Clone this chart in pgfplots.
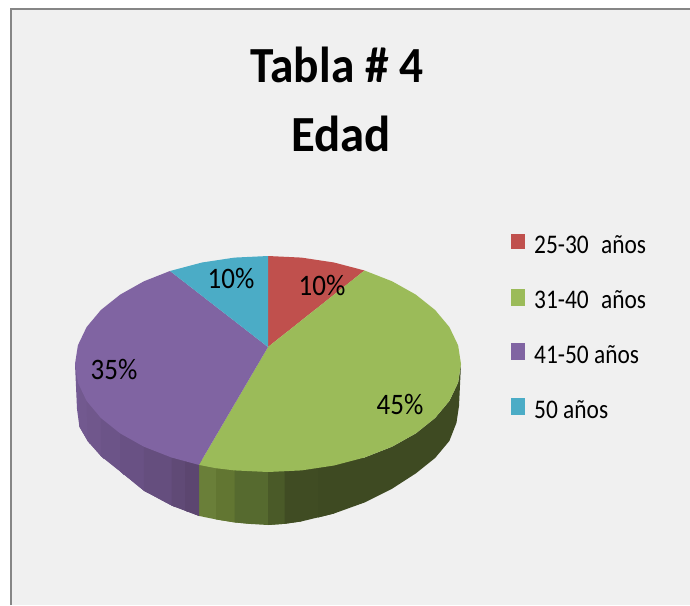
\documentclass[border=0pt]{standalone}
\usepackage{pgfplots}
\usepackage{fontspec}
\setmainfont{Carlito}
\pgfplotsset{compat=1.18}
\definecolor{pbg}{HTML}{F0F0F0}
\definecolor{frm}{HTML}{868686}
\definecolor{cr}{HTML}{C0504D}
\definecolor{cg}{HTML}{9BBB59}
\definecolor{cp}{HTML}{8064A2}
\definecolor{cb}{HTML}{4BACC6}
\definecolor{g1}{HTML}{6A7F39}
\definecolor{g2}{HTML}{627632}
\definecolor{g3}{HTML}{566A2F}
\definecolor{g4}{HTML}{4A5A28}
\definecolor{g5}{HTML}{404C23}
\definecolor{g6}{HTML}{3E4A22}
\definecolor{p1}{HTML}{735A93}
\definecolor{p2}{HTML}{72598F}
\definecolor{p3}{HTML}{70578C}
\definecolor{p4}{HTML}{6C5488}
\definecolor{p5}{HTML}{695184}
\definecolor{p6}{HTML}{654E7E}
\definecolor{p7}{HTML}{604A76}
\definecolor{p8}{HTML}{5C4670}
\newcommand{\piece}[2]{\addplot[fill=#1,draw=none,mark=none] coordinates {#2};}
\newcommand{\slice}[2]{\addplot[fill=#1,draw=none,mark=none] coordinates {#2};}
\newcommand{\lab}[1]{\fontsize{27}{27}\selectfont\scalebox{1}[1.1]{#1}}
\newcommand{\leg}[1]{\fontsize{24}{24}\selectfont\scalebox{0.975}[1.12]{#1}}
\newcommand{\ttl}[2]{\fontsize{46}{46}\selectfont\bfseries\scalebox{#1}[1.1]{#2}}
\begin{document}
\begin{tikzpicture}
\begin{axis}[
  width=690pt,height=605pt,scale only axis,
  xmin=0,xmax=690,ymin=0,ymax=605,y dir=reverse,
  axis lines=none,clip=true]
% background
\addplot[fill=white,draw=none,mark=none] coordinates {(0,0)(690,0)(690,605)(0,605)};
\addplot[fill=pbg,draw=none,mark=none] coordinates {(11,9)(690,9)(690,605)(11,605)};
\addplot[draw=frm,line width=2.4pt,mark=none] coordinates {(11,605)(11,9)(690,9)};
% legend keys
\slice{cr}{(511,234)(525,234)(525,249)(511,249)}
\slice{cg}{(511,289)(525,289)(525,306)(511,306)}
\slice{cp}{(511,343)(525,343)(525,360)(511,360)}
\slice{cb}{(511,398)(525,398)(525,415)(511,415)}
% side: green, each strip running on under the next
\piece{g1}{(198.9,460)(216,460)(234.5,465)(234.5,522.4)(216,519.4)(198.9,515.9)}
\piece{g2}{(216,460)(251.2,465)(251.2,524)(234.5,522.4)(216,519.4)}
\piece{g3}{(234.5,465)(284.7,465)(284.7,523.8)(268,525)(251.2,524)(234.5,522.4)}
\piece{g4}{(268,465)(301.5,465)(301.5,521.4)(284.7,523.8)(268,525)}
\piece{g5}{(284.7,465)(334,460)(334,513.5)(301.5,521.4)(284.7,523.8)}
\piece{g6}{(461,364)(458.1,382.7)(449.4,400.9)(435.1,418)(415.8,433.4)(392.1,446.7)(364.5,457.5)(318,460)(318,517.5)(334,513.5)(364.5,502.5)(392.1,488.7)(415.8,473.4)(435.1,458)(449.4,440.9)(456.5,422.7)(459,406)}
% side: purple, each strip running on under the next
\piece{p1}{(75,364)(90,382)(90,444)(87.6,440.9)(79.4,426.7)(77,409)}
\piece{p2}{(80,382)(104,400)(104,459)(100.9,456)(87.6,440.9)(79.4,426.7)}
\piece{p3}{(86.6,400)(124,420)(124,475)(120.2,471.4)(100.9,456)(87.6,440.9)}
\piece{p4}{(100.9,418)(148,440)(148,493)(143.9,490.7)(120.2,471.4)(100.9,456)}
\piece{p5}{(120.2,433)(175,450)(175,507)(171.5,505.5)(143.9,490.7)(120.2,471.4)}
\piece{p6}{(143.9,446)(188,455)(188,512)(185,510.6)(171.5,505.5)(143.9,490.7)}
\piece{p7}{(171.5,457)(199,455)(199,516)(185,510.6)(171.5,505.5)}
\piece{p8}{(185,455)(198.9,455)(198.9,515.9)(185,510.6)}
% top faces
\slice{cr}{(268,347)(268,256)(301.5,257.6)(334,262.5)(364.5,270.5)}
\slice{cg}{(268,347)(364.5,270.5)(392.1,281.3)(415.8,294.6)(435.1,310)(449.4,327.1)(458.1,345.3)(461,364)(458.1,382.7)(449.4,400.9)(435.1,418)(415.8,433.4)(392.1,446.7)(364.5,457.5)(334,465.5)(301.5,470.4)(268,472)(234.5,470.4)(216,468.2)(198.9,464.9)}
\slice{cp}{(268,347)(198.9,464.9)(171.5,457.5)(143.9,446.7)(120.2,433.4)(100.9,418)(86.6,400.9)(77.9,382.7)(75,364)(77.9,345.3)(86.6,327.1)(100.9,310)(120.2,294.6)(143.9,281.3)(170,271)}
\slice{cb}{(268,347)(170,271)(202,262.5)(234.5,257.6)(268,256)}
% texts
\node at (axis cs:337,65) {\ttl{1.03}{Tabla \# 4}};
\node at (axis cs:341,134) {\ttl{1.06}{Edad}};
\node at (axis cs:322,285) {\lab{10\%}};
\node at (axis cs:231,278) {\lab{10\%}};
\node at (axis cs:114,369) {\lab{35\%}};
\node at (axis cs:400,404) {\lab{45\%}};
\node[anchor=west,inner sep=0pt] at (axis cs:534,245) {\leg{25-30\hspace{0.3em} años}};
\node[anchor=west,inner sep=0pt] at (axis cs:534,300) {\leg{31-40\hspace{0.3em} años}};
\node[anchor=west,inner sep=0pt] at (axis cs:534,355) {\leg{41-50 años}};
\node[anchor=west,inner sep=0pt] at (axis cs:534,410) {\leg{50 años}};
\end{axis}
\end{tikzpicture}
\end{document}
